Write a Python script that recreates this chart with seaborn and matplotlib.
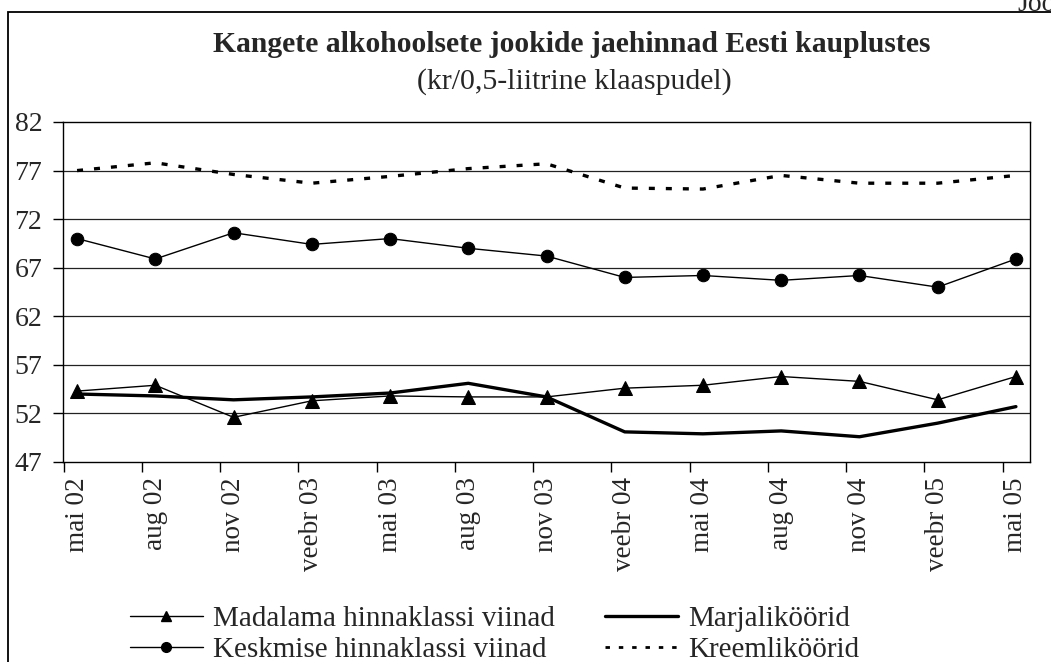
import numpy as np
import pandas as pd
import matplotlib
matplotlib.use("Agg")
import matplotlib.pyplot as plt
from matplotlib.lines import Line2D
from matplotlib.patches import Rectangle
import seaborn as sns

categories = ["mai 02", "aug 02", "nov 02", "veebr 03", "mai 03", "aug 03", "nov 03",
              "veebr 04", "mai 04", "aug 04", "nov 04", "veebr 05", "mai 05"]
madalama = [54.3, 54.9, 51.6, 53.3, 53.8, 53.7, 53.7, 54.6, 54.9, 55.8, 55.3, 53.4, 55.8]
keskmise = [70.0, 67.9, 70.6, 69.4, 70.0, 69.0, 68.2, 66.0, 66.2, 65.7, 66.2, 65.0, 67.9]
marjal = [54.0, 53.8, 53.4, 53.7, 54.1, 55.1, 53.7, 50.1, 49.9, 50.2, 49.6, 51.0, 52.7]
kreem = [77.0, 77.8, 76.6, 75.7, 76.4, 77.2, 77.7, 75.2, 75.1, 76.5, 75.7, 75.7, 76.5]
yticks = [47, 52, 57, 62, 67, 72, 77, 82]
names = ["Madalama hinnaklassi viinad", "Keskmise hinnaklassi viinad",
         "Marjaliköörid", "Kreemliköörid"]

sns.set_theme(style="white")
plt.rcParams['font.family'] = ['Liberation Serif', 'DejaVu Serif']

df = pd.DataFrame({"x": np.arange(len(categories)), "mad": madalama, "kes": keskmise,
                   "mar": marjal, "kre": kreem})

fig = plt.figure(figsize=(10.51, 6.62), dpi=100)
ax = fig.add_axes([63/1051, 1-462/662, 967/1051, 340/662])

for y in yticks[1:-1]:
    ax.axhline(y, color="#222222", lw=0.9, zorder=0)

sns.lineplot(data=df, x="x", y="kre", ax=ax, color="black", lw=2.4, zorder=2)
ax.lines[-1].set_dashes([1.8, 3.3])
sns.lineplot(data=df, x="x", y="mar", ax=ax, color="black", lw=2.4, zorder=2)
sns.lineplot(data=df, x="x", y="kes", ax=ax, color="black", lw=1.0, marker="o",
             markersize=9, markeredgecolor="black", zorder=3)
sns.lineplot(data=df, x="x", y="mad", ax=ax, color="black", lw=1.0, marker="^",
             markersize=10, markeredgecolor="black", zorder=3)

ax.set_xlim(-0.18, 12.18)
ax.set_ylim(47, 82)
ax.set_yticks(yticks)
ax.set_yticklabels([str(v) for v in yticks], fontsize=20)
ax.set_xticks(np.arange(len(categories)))
ax.set_xticklabels(categories, rotation=90, fontsize=19.5)
ax.set_xticks(np.arange(len(categories)) - 0.17, minor=True)
ax.tick_params(axis="x", which="major", length=0, pad=11)
ax.tick_params(axis="x", which="minor", length=7, width=1, color="black", direction="out", bottom=True)
ax.tick_params(axis="y", length=7, width=1, color="black", direction="out", left=True, pad=8)
ax.set_xlabel("")
ax.set_ylabel("")
for s in ax.spines.values():
    s.set_color("black")
    s.set_linewidth(1.0)

fig.text(572/1051, 1-45/662, "Kangete alkohoolsete jookide jaehinnad Eesti kauplustes",
         ha="center", va="center", fontsize=21.3, fontweight="bold")
fig.text(574/1051, 1-82/662, "(kr/0,5-liitrine klaaspudel)", ha="center", va="center", fontsize=21.5)
fig.text(1017/1051, 1-11/662, "Joo", ha="left", va="baseline", fontsize=20)

fig.add_artist(Rectangle((8/1051, -0.2), 1.2, 1-12/662+0.2, transform=fig.transFigure,
                         fill=False, edgecolor="black", lw=1.3))

h1 = Line2D([], [], color="black", lw=1.0, marker="^", markersize=7)
h2 = Line2D([], [], color="black", lw=1.0, marker="o", markersize=7)
h3 = Line2D([], [], color="black", lw=2.4)
h4 = Line2D([], [], color="black", lw=2.0, dashes=[1.6, 3.2])
fig.legend([h1, h2, h3, h4], names, ncol=2, loc="upper left",
           bbox_to_anchor=(130/1051, 1-606/662), frameon=False, fontsize=21,
           handlelength=2.5, handletextpad=0.33, columnspacing=1.75, labelspacing=0.15,
           borderaxespad=0, borderpad=0)

fig.savefig("out.png", dpi=100)
